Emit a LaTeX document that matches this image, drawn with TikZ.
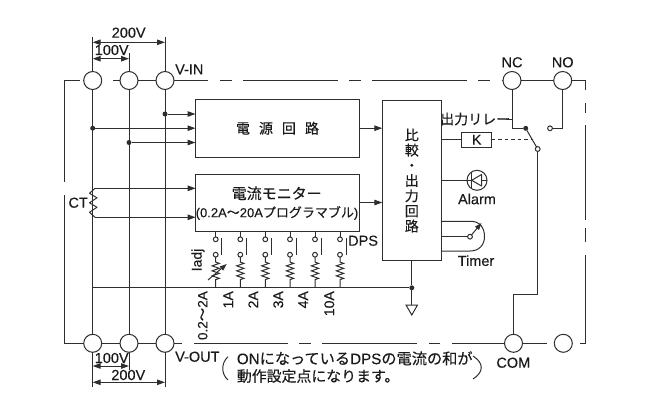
\documentclass[tikz,border=0pt]{standalone}
\usepackage{fontspec}
\setmainfont[FakeBold=0.25]{Liberation Sans}
\newfontfamily\cjk[FakeBold=0.25]{Noto Sans CJK JP}
\usetikzlibrary{arrows.meta,decorations.pathmorphing}
\definecolor{ink}{HTML}{2E2E2E}
\definecolor{txt}{HTML}{1A1A1A}
\newcommand{\fs}[1]{\fontsize{#1}{#1}\selectfont}
\tikzset{
  wire/.style={draw=ink,line width=1pt},
  arrowwire/.style={wire,-{Triangle[length=8pt,width=5.5pt]}},
  dimwire/.style={wire,{Triangle[length=8pt,width=5.5pt]}-{Triangle[length=8pt,width=5.5pt]}},
  term/.style={circle,draw=ink,line width=1pt,fill=white,minimum size=18pt,inner sep=0pt,outer sep=0pt},
  smallterm/.style={circle,draw=ink,line width=1pt,fill=white,minimum size=4.8pt,inner sep=0pt,outer sep=0pt},
  jdot/.style={circle,fill=ink,minimum size=5pt,inner sep=0pt,outer sep=0pt},
  blockbox/.style={draw=ink,line width=1pt,fill=white,inner sep=0pt,outer sep=0pt},
  lab/.style={text=txt,font=\fs{14.5},inner sep=0pt},
  jlab/.style={text=txt,font=\cjk\fs{14},inner sep=0pt},
  rotlab/.style={text=txt,font=\fs{14},inner sep=0pt,rotate=90,anchor=east},
  reszig/.style={wire,decorate,decoration={zigzag,segment length=5pt,amplitude=3.6pt,pre length=5pt,post length=6pt}}
}
\begin{document}
\begin{tikzpicture}[x=1pt,y=-1pt]
\useasboundingbox (0,0) rectangle (650,408);
% outer dashed frame (drawn directly)
\foreach \a/\b in {64/80,113/120,138/156,174/208,220/232,243/338,349/361,372/467,478/490,501.5/504}
  \draw[wire] (\a,80.5) -- (\b,80.5);
\foreach \a/\b in {64/84,102/120,138/156,174/182,194/288,299/311,322/417,429/440,452/504,522/547,580/585.7}
  \draw[wire] (\a,343.3) -- (\b,343.3);
\draw[wire] (64,80.5) -- (64,182);
\draw[wire] (64,195) -- (64,343.3);
\draw[wire] (585.7,80.5) -- (585.7,90);
\draw[wire] (585.7,103) -- (585.7,113);
\draw[wire] (585.7,125) -- (585.7,220);
\draw[wire] (585.7,228) -- (585.7,242);
\draw[wire] (585.7,255) -- (585.7,343.3);
\draw[wire] (571,80.5) -- (585.7,80.5);
% terminals
\node[term] (t1) at (92.7,80.5) {};
\node[term] (t2) at (129,80.5) {};
\node[term] (t3) at (165,80.5) {};
\node[term] (b1) at (92.7,343.3) {};
\node[term] (b2) at (129,343.3) {};
\node[term] (b3) at (165,343.3) {};
\node[term] (nc) at (512,80.5) {};
\node[term] (no) at (562.7,80.5) {};
\node[term] (com) at (513.5,343.3) {};
\node[term] (spare) at (563.3,343.3) {};
\draw[wire] (t2) -- (t3);
\draw[wire] (nc) -- (no);
% blocks
\node[blockbox,minimum width=164pt,minimum height=58pt] (psu) at (277.5,128.2) {};
\node[blockbox,minimum width=164.3pt,minimum height=57pt] (mon) at (277.8,202.5) {};
\node[blockbox,minimum width=59pt,minimum height=160pt] (cmp) at (411.8,180) {};
\node[text=txt,font=\cjk\fs{14},inner sep=0pt] (psutxt) at (psu) {電\hspace{9pt}源\hspace{9pt}回\hspace{9pt}路};
\node[jlab,font=\cjk\fs{15}] (montxt1) at (276.7,193.3) {電流モニター};
\node[text=txt,font=\fs{13},inner sep=0pt] (montxt2) at (277,213) {(0.2A{\cjk ～}20A{\cjk プログラマブル})};
\node[text=txt,font=\cjk\fontsize{14}{15.2}\selectfont,inner sep=0pt,align=center] (cmptxt) at (411.8,180.5) {比\\較\\・\\出\\力\\回\\路};
% buses
\draw[wire] (t1) -- (b1);
\draw[wire] (t2) -- (b2);
\draw[wire] (t3) -- (b3);
% inputs to power block
\coordinate (y1) at (0,114);
\coordinate (y2) at (0,128.2);
\coordinate (y3) at (0,142.5);
\node[jdot] (j1) at (t3 |- y1) {};
\node[jdot] (j2) at (t1 |- y2) {};
\node[jdot] (j3) at (t2 |- y3) {};
\draw[arrowwire] (j1) -- (j1 -| psu.west);
\draw[arrowwire] (j2) -- (j2 -| psu.west);
\draw[arrowwire] (j3) -- (j3 -| psu.west);
\coordinate (y4) at (0,128.2);
\draw[arrowwire] (psu.east |- y4) -- (cmp.west |- y4);
\coordinate (y5) at (0,202.5);
\draw[arrowwire] (mon.east |- y5) -- (cmp.west |- y5);
% CT
\coordinate (ct1) at (95,188.3);
\coordinate (ct2) at (95,217.3);
\draw[wire,line join=round] (ct1) -- ++(-5.5,5) -- ++(7.5,4.5) -- ++(-7.5,5) -- ++(7.5,4.5) -- ++(-7.5,5) -- ++(5.5,5);
\draw[arrowwire] (ct1) -- (ct1 -| mon.west);
\draw[arrowwire] (ct2) -- (ct2 -| mon.west);
\node[lab,anchor=east] (ctl) at (88,202.7) {CT};
% base line
\coordinate (base0) at (92.7,287.8);
\node[jdot] (gj) at (411.8,287.8) {};
\draw[wire] (base0) -- (gj);
\draw[wire] (cmp.south -| gj) -- (gj);
\coordinate (gnd) at (411.8,305);
\draw[wire] (gj) -- (gnd);
\draw[wire,line join=miter] (406,305) -- (417.5,305) -- (411.8,315) -- cycle;
% DPS switches
\foreach \n/\x in {1/215.7,2/240.3,3/265.3,4/290,5/315,6/340}{
  \node[smallterm] (sa\n) at (\x,239.3) {};
  \node[smallterm] (sb\n) at (\x,254.7) {};
  \coordinate (bs\n) at (\x,287.8);
  \coordinate (sw\n) at (\x+6,238);
  \coordinate (se\n) at (\x+6,255);
  \draw[wire] (sa\n |- mon.south) -- (sa\n);
  \draw[wire] (sw\n) -- (se\n);
  \draw[reszig] (sb\n) -- (bs\n);
}
\coordinate (va1) at (208,280);
\coordinate (va2) at (226.7,264);
\draw[wire,-{Triangle[length=7pt,width=5pt]}] (va1) -- (va2);
\node[lab,font=\fs{14},rotate=90] (iadj) at (198,260) {Iadj};
\node[lab,anchor=west] (dps) at (348,240.7) {DPS};
\node[rotlab,font=\fs{13.5}] (r0) at (202.7,291) {0.2{\cjk ～}2A};
\node[rotlab] (r1) at (228.3,291) {1A};
\node[rotlab] (r2) at (253.3,291) {2A};
\node[rotlab] (r3) at (278.3,291) {3A};
\node[rotlab] (r4) at (303.3,291) {4A};
\node[rotlab] (r5) at (329.3,291) {10A};
% relay
\node[jdot] (rj) at (525.7,128.3) {};
\node[smallterm] (rc) at (537.7,149) {};
\node[smallterm] (rn) at (550,128.3) {};
\coordinate (rk1) at (512,128.3);
\draw[wire] (nc) -- (rk1) -- (rj);
\draw[wire] (rj) -- (rc);
\coordinate (rk2) at (562.7,128.3);
\draw[wire] (no) -- (rk2) -- (rn);
\coordinate (rk3) at (537.7,294.3);
\coordinate (rk4) at (513.5,294.3);
\draw[wire] (rc) -- (rk3) -- (rk4) -- (com);
\node[blockbox,minimum width=30pt,minimum height=15pt] (k) at (476.7,139.7) {};
\node[lab,font=\fs{14}] (ktxt) at (k) {K};
\draw[wire] (cmp.east |- k) -- (k);
\coordinate (kd) at (532,139.7);
\draw[wire,dashed,dash pattern=on 3.5pt off 3pt] (k) -- (kd);
\node[jlab,anchor=west] (relay) at (440,119) {出力リレー};
\coordinate (rk5) at (512,119);
\draw[wire] (relay.east) ++(-4,0) -- (rk5);
% alarm
\node[circle,draw=ink,line width=1pt,minimum size=20pt,inner sep=0pt,outer sep=0pt] (led) at (477,180.3) {};
\draw[wire] (cmp.east |- led) -- (471.7,180.3);
\draw[wire] (471.7,172) -- (471.7,188.5);
\draw[wire,line join=round] (471.7,180.3) -- (481.5,174.5) -- (481.5,186) -- cycle;
\draw[wire] (481.5,180.3) -- (led.east);
\node[lab] (alarm) at (477,199) {Alarm};
% timer
\coordinate (ta) at (441.3,221.3);
\coordinate (tb) at (441.3,251);
\node[smallterm] (tc) at (470,236.7) {};
\coordinate (tt) at (481.5,223);
\draw[wire] (ta) -- (471,221.3) .. controls (480,221.3) and (484.5,228) .. (484.5,236.5) .. controls (484.5,245) and (479,251) .. (470,251) -- (tb);
\draw[wire] (tc -| cmp.east) -- (tc);
\draw[wire,-{Triangle[length=7pt,width=5pt]}] (tc) -- (tt);
\node[lab] (timer) at (476,260.7) {Timer};
% dimensions top
\coordinate (d1) at (92.7,36.7);
\coordinate (d2) at (129,53);
\coordinate (d3) at (165,36.7);
\draw[wire] (t1) -- (d1);
\draw[wire] (t2) -- (d2);
\draw[wire] (t3) -- (d3);
\coordinate (a1) at (92.7,42.3);
\coordinate (a2) at (165,42.3);
\coordinate (a3) at (92.7,58.7);
\coordinate (a4) at (129,58.7);
\draw[dimwire] (a1) -- (a2);
\draw[dimwire] (a3) -- (a4);
\node[lab] (l200t) at (128.7,32.7) {200V};
\node[lab] (l100t) at (111.7,50) {100V};
% dimensions bottom
\coordinate (e1) at (92.7,387);
\coordinate (e2) at (129,370);
\coordinate (e3) at (165,387);
\draw[wire] (b1) -- (e1);
\draw[wire] (b2) -- (e2);
\draw[wire] (b3) -- (e3);
\coordinate (a5) at (92.7,366);
\coordinate (a6) at (129,366);
\coordinate (a7) at (92.7,382.3);
\coordinate (a8) at (165,382.3);
\draw[dimwire] (a5) -- (a6);
\draw[dimwire] (a7) -- (a8);
\node[lab] (l100b) at (111.7,358) {100V};
\node[lab] (l200b) at (128.3,375) {200V};
% labels
\node[lab,anchor=west] (vin) at (175,69.3) {V-IN};
\node[lab,anchor=west] (vout) at (175,356.7) {V-OUT};
\node[lab] (lnc) at (512,62.3) {NC};
\node[lab] (lno) at (562.7,62.3) {NO};
\node[lab] (lcom) at (513.3,362.7) {COM};
% note
\node[text=txt,font=\fs{15.2},inner sep=0pt,anchor=west] (n1) at (236.7,358.3) {ON{\cjk になっている}DPS{\cjk の電流の和が}};
\node[text=txt,font=\cjk\fs{14.9},inner sep=0pt,anchor=west] (n2) at (236.7,376) {動作設定点になります。};
\draw[wire] (228,356.7) .. controls (221,363) and (221,374) .. (228,380);
\draw[wire] (473,356) .. controls (484,363) and (484,372) .. (473,379);
\end{tikzpicture}
\end{document}
